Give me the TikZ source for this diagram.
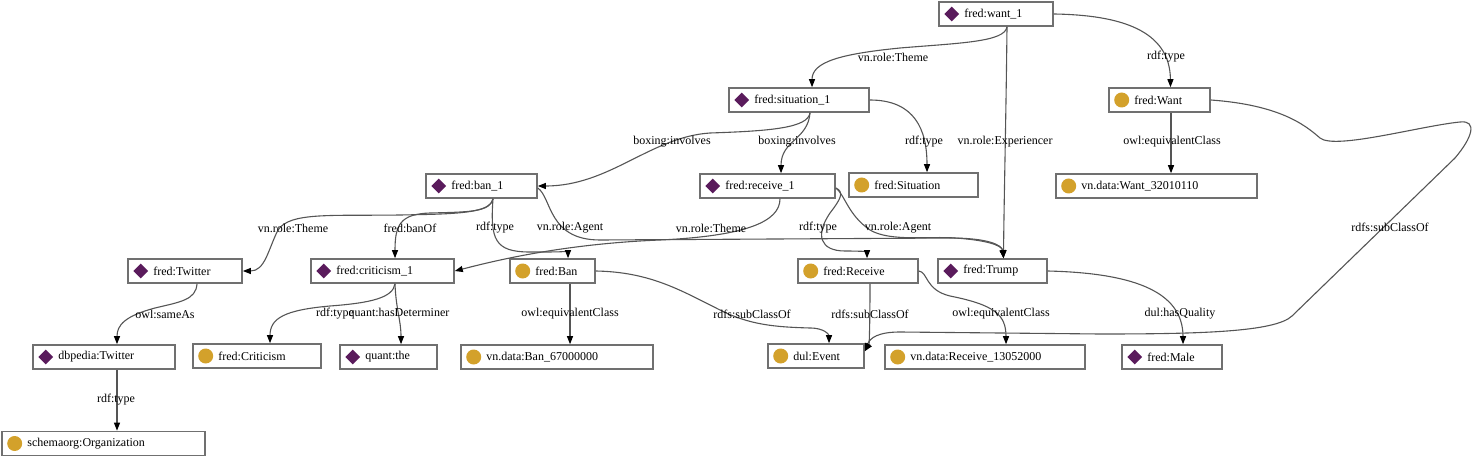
\documentclass[tikz,border=0pt]{standalone}
\usepackage{fontspec}
\setmainfont{Liberation Serif}
\usetikzlibrary{shapes.geometric,arrows.meta}
\definecolor{ipurple}{HTML}{5A1B5C}
\definecolor{cgold}{HTML}{D3A12B}
\definecolor{boxgray}{HTML}{707070}
\definecolor{edgegray}{HTML}{555555}
\newcommand{\ent}[6]{%
  \node[ebox, minimum width=#4] (#1) at (#2,#3) {};
  \node[#5] (#1i) at ([xshift=13.5pt]#1.west) {};
  \node[etext] (#1t) at ([xshift=26pt]#1.west) {#6};}
\begin{document}
\begin{tikzpicture}[x=1pt,y=-1pt,
  ebox/.style={draw=boxgray, line width=1.6pt, fill=white, minimum height=24pt, inner sep=0pt},
  inst/.style={diamond, fill=ipurple, minimum width=15pt, minimum height=15pt, inner sep=0pt},
  cls/.style={circle, fill=cgold, minimum size=15pt, inner sep=0pt},
  etext/.style={anchor=west, inner sep=0pt, font=\fontsize{12}{14}\selectfont},
  elabel/.style={inner sep=0pt, font=\fontsize{12}{14}\selectfont},
  edge/.style={draw=edgegray, line width=1.1pt, -{Triangle[length=8pt,width=6pt,color=black]}}]
\useasboundingbox (0,0) rectangle (1475,465);

% nodes
\ent{w1}{996}{14}{114pt}{inst}{fred:want\_1}
\ent{sit1}{799}{100}{140pt}{inst}{fred:situation\_1}
\ent{Want}{1159.5}{100}{101pt}{cls}{fred:Want}
\ent{ban1}{481.5}{186}{111pt}{inst}{fred:ban\_1}
\ent{rec1}{767.5}{186}{135pt}{inst}{fred:receive\_1}
\ent{Sit}{913.5}{185}{129pt}{cls}{fred:Situation}
\ent{W32}{1156.5}{186}{201pt}{cls}{vn.data:Want\_32010110}
\ent{Tw}{185}{271}{114pt}{inst}{fred:Twitter}
\ent{crit1}{382.5}{271}{143pt}{inst}{fred:criticism\_1}
\ent{Ban}{552.5}{271}{85pt}{cls}{fred:Ban}
\ent{Rec}{858}{271}{120pt}{cls}{fred:Receive}
\ent{Trump}{992.5}{271}{109pt}{inst}{fred:Trump}
\ent{dbTw}{104}{357}{142pt}{inst}{dbpedia:Twitter}
\ent{Crit}{257}{356}{128pt}{cls}{fred:Criticism}
\ent{the}{388.5}{357}{97pt}{inst}{quant:the}
\ent{B67}{557}{357}{192pt}{cls}{vn.data:Ban\_67000000}
\ent{Ev}{816}{356}{96pt}{cls}{dul:Event}
\ent{R13}{985}{357}{200pt}{cls}{vn.data:Receive\_13052000}
\ent{Male}{1172}{357}{100pt}{inst}{fred:Male}
\ent{Org}{103.5}{443.5}{203pt}{cls}{schemaorg:Organization}

% edges
\draw[edge] ([xshift=11pt]w1.south) .. controls (1005,42) and (960,43) .. (900,48) .. controls (840,54) and (812,62) .. ([xshift=13pt]sit1.north);
\draw[edge] (w1.east) .. controls (1120,15) and (1170,30) .. ([xshift=11pt]Want.north);
\draw[edge] ([xshift=11pt]w1.south) .. controls (1006,120) and (1004,200) .. ([xshift=11pt]Trump.north);
\draw[edge] ([xshift=11pt]sit1.south) .. controls (808,128) and (770,131) .. (710,133) .. controls (650,137) and (610,186) .. (ban1.east);
\draw[edge] ([xshift=11pt]sit1.south) .. controls (808,140) and (781,140) .. ([xshift=13.5pt]rec1.north);
\draw[edge] (sit1.east) .. controls (915,100) and (927,130) .. ([xshift=13.5pt]Sit.north);
\draw[edge] ([xshift=11.5pt]Want.south) -- ([xshift=14.5pt]W32.north);
\draw[edge] (Want.east) .. controls (1280,105) and (1305,125) .. (1320,138) .. controls (1335,150) and (1420,126) .. (1460,122) .. controls (1478,120) and (1472,138) .. (1455,158) -- (1292,316) .. controls (1275,332) and (1200,334) .. (1100,334) -- (900,332) .. controls (878,332) and (870,338) .. ([yshift=-8pt]Ev.north east);
\draw[edge] ([xshift=11.5pt]ban1.south) .. controls (490,213) and (460,214) .. (400,215) .. controls (330,216) and (290,212) .. (278,230) .. controls (268,250) and (265,271) .. (Tw.east);
\draw[edge] ([xshift=11.5pt]ban1.south) .. controls (490,212) and (470,212) .. (430,213) .. controls (400,214) and (395,225) .. ([xshift=12.5pt]crit1.north);
\draw[edge] ([xshift=11.5pt]ban1.south) .. controls (490,240) and (495,252) .. (530,252) .. controls (558,252) and (568,252) .. ([xshift=15.5pt]Ban.north);
\draw[edge] ([yshift=-2pt]ban1.east) .. controls (552,198) and (548,240) .. (600,240) -- (950,238) .. controls (988,238) and (1002,245) .. ([xshift=11pt]Trump.north);
\draw[edge] ([xshift=12.5pt]rec1.south) .. controls (780,222) and (745,236) .. (660,240) .. controls (560,244) and (490,262) .. (crit1.east);
\draw[edge] ([yshift=-2pt]rec1.east) .. controls (845,192) and (840,200) .. (830,213) .. controls (815,235) and (820,251) .. (845,251) .. controls (862,251) and (867,252) .. ([xshift=9pt]Rec.north);
\draw[edge] ([yshift=-2pt]rec1.east) .. controls (845,195) and (848,215) .. (870,230) .. controls (890,242) and (930,236) .. (955,238) .. controls (985,240) and (1002,245) .. ([xshift=11pt]Trump.north);
\draw[edge] ([xshift=12.5pt]crit1.south) .. controls (393,298) and (370,303) .. (330,306) .. controls (285,310) and (270,318) .. ([xshift=13pt]Crit.north);
\draw[edge] ([xshift=12.5pt]crit1.south) .. controls (396,310) and (401,320) .. ([xshift=12.5pt]the.north);
\draw[edge] ([xshift=12pt]Tw.south) .. controls (196,300) and (180,302) .. (155,308) .. controls (125,316) and (117,325) .. ([xshift=13pt]dbTw.north);
\draw[edge] ([xshift=13pt]dbTw.south) -- ([xshift=13.5pt]Org.north);
\draw[edge] ([xshift=17.5pt]Ban.south) -- ([xshift=13pt]B67.north);
\draw[edge] (Ban.east) .. controls (650,272) and (680,290) .. (720,310) .. controls (750,325) and (775,327) .. (810,328) .. controls (825,328) and (829,335) .. ([xshift=13pt]Ev.north);
\draw[edge] ([xshift=12pt]Rec.south) .. controls (870,330) and (869,345) .. ([yshift=-8pt]Ev.north east);
\draw[edge] (Rec.east) .. controls (928,272) and (925,290) .. (950,296) .. controls (995,305) and (1006,315) .. ([xshift=21pt]R13.north);
\draw[edge] (Trump.east) .. controls (1130,273) and (1183,290) .. ([xshift=11pt]Male.north);

% edge labels
\node[elabel] (l1) at (893,57) {vn.role:Theme};
\node[elabel] (l2) at (1166,57) {rdf:type};
\node[elabel] (l3) at (1005,142) {vn.role:Experiencer};
\node[elabel] (l4) at (672,142) {boxing:involves};
\node[elabel] (l5) at (797,142) {boxing:involves};
\node[elabel] (l6) at (924,142) {rdf:type};
\node[elabel] (l7) at (1172,142) {owl:equivalentClass};
\node[elabel] (l8) at (1390,227) {rdfs:subClassOf};
\node[elabel] (l9) at (293,228) {vn.role:Theme};
\node[elabel] (l10) at (410,228) {fred:banOf};
\node[elabel] (l11) at (495,228) {rdf:type};
\node[elabel] (l12) at (570,228) {vn.role:Agent};
\node[elabel] (l13) at (711,228) {vn.role:Theme};
\node[elabel] (l14) at (818,228) {rdf:type};
\node[elabel] (l15) at (898,228) {vn.role:Agent};
\node[elabel] (l16) at (165,314) {owl:sameAs};
\node[elabel] (l17) at (335,314) {rdf:type};
\node[elabel] (l18) at (399,314) {quant:hasDeterminer};
\node[elabel] (l19) at (570,314) {owl:equivalentClass};
\node[elabel] (l20) at (752,314) {rdfs:subClassOf};
\node[elabel] (l21) at (870,314) {rdfs:subClassOf};
\node[elabel] (l22) at (1001,314) {owl:equivalentClass};
\node[elabel] (l23) at (1180,314) {dul:hasQuality};
\node[elabel] (l24) at (116,400) {rdf:type};
\end{tikzpicture}
\end{document}
